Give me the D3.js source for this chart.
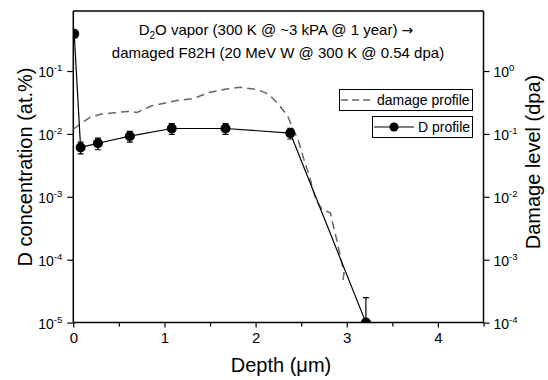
<!DOCTYPE html>
<html>
<head>
<meta charset="utf-8">
<script src="https://cdn.jsdelivr.net/npm/d3@7/dist/d3.min.js"></script>
<style>
  body { margin: 0; background: #fff; }
  svg { font-family: "Liberation Sans", Arial, sans-serif; }
</style>
</head>
<body>
<svg id="chart" width="548" height="380"></svg>
<script>
// D profile (left axis, at.%)
var dDepth = [0.01, 0.08, 0.27, 0.62, 1.08, 1.67, 2.38, 3.21];
var dConc  = [0.39, 0.0061, 0.0071, 0.0092, 0.0122, 0.0122, 0.0103, 0.00001];
var dErr   = [0.05, 0.0013, 0.0015, 0.0018, 0.0024, 0.0024, 0.0020, 0.000015];

// damage profile (right axis, dpa)
var dmgDepth = [0, 0.18, 0.31, 0.60, 0.70, 0.86, 1.12, 1.32, 1.50, 1.72, 1.83, 2.02, 2.14, 2.25, 2.35, 2.42, 2.47, 2.53, 2.60, 2.66, 2.73, 2.82, 2.84, 2.89, 2.93, 2.97, 2.95];
var dmgDpa   = [0.119, 0.183, 0.207, 0.228, 0.220, 0.280, 0.336, 0.367, 0.458, 0.531, 0.551, 0.505, 0.431, 0.298, 0.194, 0.112, 0.077, 0.0394, 0.0189, 0.00905, 0.00627, 0.00555, 0.00407, 0.00208, 0.00112, 0.00061, 0.000397];

var xTicks = [0, 1, 2, 3, 4];
var xMinor = [0.5, 1.5, 2.5, 3.5, 4.5];
var leftTicks = [1e-5, 1e-4, 1e-3, 1e-2, 1e-1];
var rightTicks = [1e-4, 1e-3, 1e-2, 1e-1, 1e0];

var titleLine1 = ["D", "2", "O vapor (300 K @ ~3 kPA @ 1 year) ", "\u2192"];
var titleLine2 = "damaged F82H (20 MeV W @ 300 K @ 0.54 dpa)";

var svg = d3.select("#chart");
var m = { left: 73.3, right: 483.5, top: 11, bottom: 322.6 };

var x = d3.scaleLinear().domain([0, 4.5]).range([m.left, m.right]);
var yL = d3.scaleLog().domain([1e-5, 0.9]).range([m.bottom, m.top]);
var yR = d3.scaleLog().domain([1e-4, 9]).range([m.bottom, m.top]);

function minorsOf(scale) {
    var lo = scale.domain()[0], hi = scale.domain()[1], out = [];
    for (var e = Math.floor(Math.log10(lo)); e <= Math.ceil(Math.log10(hi)); e++) {
        for (var k = 2; k <= 9; k++) {
            var v = k * Math.pow(10, e);
            if (v >= lo && v <= hi) out.push(v);
        }
    }
    return out;
}

function supLabels(sel, anchor) {
    sel.selectAll(".tick text").each(function(d) {
        var t = d3.select(this);
        var e = Math.round(Math.log10(d));
        t.text(null).attr("text-anchor", anchor);
        t.append("tspan").text("10");
        t.append("tspan").attr("font-size", 9.5).attr("dy", -6).text(e);
    });
}

// clip for plot marks
svg.append("clipPath").attr("id", "clip").append("rect")
    .attr("x", m.left).attr("y", m.top)
    .attr("width", m.right - m.left).attr("height", m.bottom - m.top);

// x axis
var gx = svg.append("g").attr("transform", "translate(0," + m.bottom + ")");
gx.call(d3.axisBottom(x).tickValues(xTicks).tickSize(5).tickPadding(5).tickFormat(d3.format("d")));
gx.append("g").call(d3.axisBottom(x).tickValues(xMinor).tickSize(4).tickFormat(""));
gx.selectAll("text").attr("font-size", 15).attr("fill", "#000");

// left axis
var gl = svg.append("g").attr("transform", "translate(" + m.left + ",0)");
gl.append("g").call(d3.axisLeft(yL).tickValues(minorsOf(yL)).tickSize(3).tickFormat(""));
gl.call(d3.axisLeft(yL).tickValues(leftTicks).tickSize(6).tickPadding(5));
supLabels(gl, "end");
gl.selectAll("text").attr("font-size", 14).attr("fill", "#000").attr("dy", "0.4em");

// right axis
var gr = svg.append("g").attr("transform", "translate(" + m.right + ",0)");
gr.append("g").call(d3.axisRight(yR).tickValues(minorsOf(yR)).tickSize(3).tickFormat(""));
gr.call(d3.axisRight(yR).tickValues(rightTicks).tickSize(6).tickPadding(4));
supLabels(gr, "start");
gr.selectAll("text").attr("font-size", 14).attr("fill", "#000").attr("dy", "0.4em");

// top border
svg.append("line").attr("x1", m.left).attr("x2", m.right)
    .attr("y1", m.top).attr("y2", m.top).attr("stroke", "#000").attr("stroke-width", 1.5);

svg.selectAll(".domain").attr("stroke-width", 1.5).attr("stroke", "#000").attr("d", null);
svg.selectAll(".tick line").attr("stroke", "#000").attr("stroke-width", 1.2);
gx.select(".domain").attr("d", "M" + m.left + ",0H" + m.right);
gl.select(".domain").attr("d", "M0," + m.top + "V" + m.bottom);
gr.select(".domain").attr("d", "M0," + m.top + "V" + m.bottom);

var plot = svg.append("g").attr("clip-path", "url(#clip)");

// damage profile
var dmg = dmgDepth.map(function(d, i) { return [d, dmgDpa[i]]; });
plot.append("path").datum(dmg)
    .attr("fill", "none").attr("stroke", "#666").attr("stroke-width", 1.5)
    .attr("stroke-dasharray", "8,5")
    .attr("d", d3.line().x(function(d) { return x(d[0]); }).y(function(d) { return yR(d[1]); }));

// D profile
var dp = dDepth.map(function(d, i) { return { x: d, y: dConc[i], e: dErr[i] }; });
plot.append("path").datum(dp)
    .attr("fill", "none").attr("stroke", "#000").attr("stroke-width", 1.2)
    .attr("d", d3.line().x(function(d) { return x(d.x); }).y(function(d) { return yL(d.y); }));

var eb = plot.selectAll(".eb").data(dp).enter().append("g").attr("class", "eb")
    .attr("stroke", "#000").attr("stroke-width", 1.2);
function lowOf(d) { return d.y - d.e > 1e-5 ? d.y - d.e : 1e-5; }
eb.append("line")
    .attr("x1", function(d) { return x(d.x); }).attr("x2", function(d) { return x(d.x); })
    .attr("y1", function(d) { return yL(d.y + d.e); }).attr("y2", function(d) { return yL(lowOf(d)); });
eb.append("line")
    .attr("x1", function(d) { return x(d.x) - 3; }).attr("x2", function(d) { return x(d.x) + 3; })
    .attr("y1", function(d) { return yL(d.y + d.e); }).attr("y2", function(d) { return yL(d.y + d.e); });
eb.append("line")
    .attr("x1", function(d) { return x(d.x) - 3; }).attr("x2", function(d) { return x(d.x) + 3; })
    .attr("y1", function(d) { return yL(lowOf(d)); }).attr("y2", function(d) { return yL(lowOf(d)); });

plot.selectAll(".pt").data(dp).enter().append("circle").attr("class", "pt")
    .attr("cx", function(d) { return x(d.x); }).attr("cy", function(d) { return yL(d.y); })
    .attr("r", 5).attr("fill", "#000");

// title
var t1 = svg.append("text").attr("x", 276).attr("y", 35).attr("text-anchor", "middle").attr("font-size", 15);
t1.append("tspan").text(titleLine1[0]);
t1.append("tspan").attr("font-size", 10).attr("dy", 4).text(titleLine1[1]);
t1.append("tspan").attr("dy", -4).text(titleLine1[2]);
t1.append("tspan").attr("font-family", "DejaVu Sans").attr("font-size", 14).text(titleLine1[3]);
svg.append("text").attr("x", 278).attr("y", 58).attr("text-anchor", "middle").attr("font-size", 15).text(titleLine2);

// legend
var lg = svg.append("g").attr("font-size", 14);
lg.append("rect").attr("x", 339.5).attr("y", 89.5).attr("width", 133).attr("height", 21)
    .attr("fill", "#fff").attr("stroke", "#000").attr("stroke-width", 1);
lg.append("line").attr("x1", 341).attr("x2", 374).attr("y1", 100).attr("y2", 100)
    .attr("stroke", "#666").attr("stroke-width", 1.5).attr("stroke-dasharray", "7,4");
lg.append("text").attr("x", 377).attr("y", 105).text("damage profile");
lg.append("rect").attr("x", 372.5).attr("y", 116.5).attr("width", 100).attr("height", 21)
    .attr("fill", "#fff").attr("stroke", "#000").attr("stroke-width", 1);
lg.append("line").attr("x1", 374).attr("x2", 414).attr("y1", 127).attr("y2", 127)
    .attr("stroke", "#000").attr("stroke-width", 1.2);
lg.append("circle").attr("cx", 394).attr("cy", 127).attr("r", 4.5).attr("fill", "#000");
lg.append("text").attr("x", 418).attr("y", 132).text("D profile");

// axis titles
svg.append("text").attr("transform", "translate(31.5,167) rotate(-90)")
    .attr("text-anchor", "middle").attr("font-size", 20).text("D concentration (at.%)");
svg.append("text").attr("transform", "translate(539.5,162) rotate(-90)")
    .attr("text-anchor", "middle").attr("font-size", 20).text("Damage level (dpa)");
var xt = svg.append("text").attr("x", 281).attr("y", 372).attr("text-anchor", "middle").attr("font-size", 20);
xt.append("tspan").text("Depth (");
xt.append("tspan").text("\u03bc");
xt.append("tspan").text("m)");
</script>
</body>
</html>
